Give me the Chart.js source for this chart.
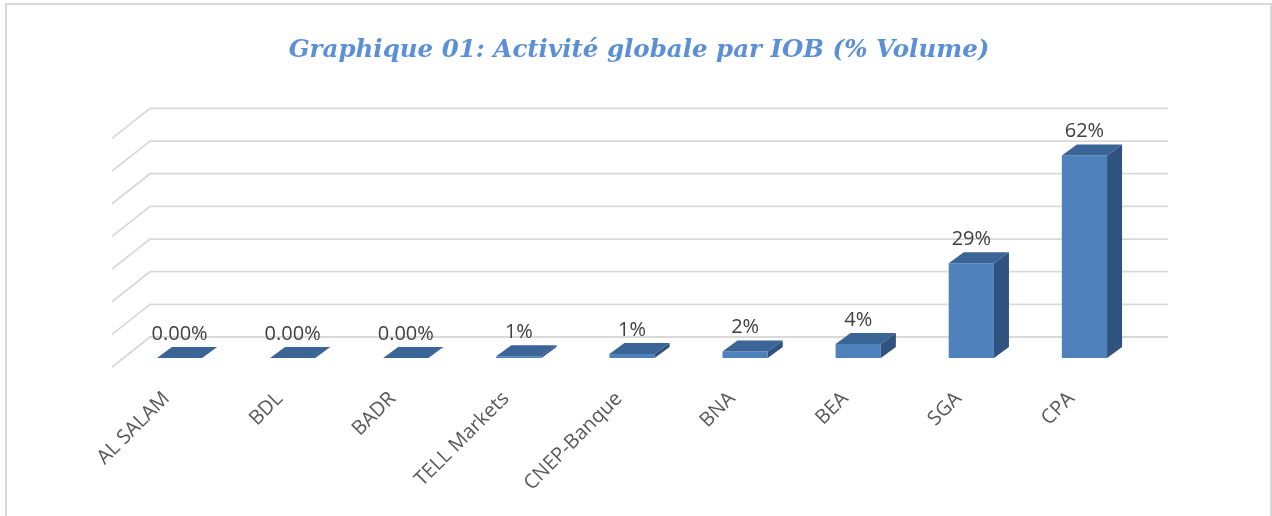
<!DOCTYPE html>
<html>
<head>
<meta charset="utf-8">
<title>Activité globale par IOB</title>
<script src="https://cdn.jsdelivr.net/npm/chart.js@4.4.1/dist/chart.umd.min.js"></script>
<style>
  html, body { margin: 0; padding: 0; background: #fff; }
  #wrap { position: relative; width: 1272px; height: 516px; }
</style>
</head>
<body>
<div id="wrap"><canvas id="chart"></canvas></div>
<script>
// ===== DATA =====
const categories = ['AL SALAM', 'BDL', 'BADR', 'TELL Markets', 'CNEP-Banque', 'BNA', 'BEA', 'SGA', 'CPA'];
const volumeShare = [0, 0, 0, 0.5, 1.2, 2, 4.3, 29, 62];
const valueLabels = ['0.00%', '0.00%', '0.00%', '1%', '1%', '2%', '4%', '29%', '62%'];
const gridTicks = [0, 10, 20, 30, 40, 50, 60, 70];

// offsets used to fake the excel 3D look
const DEPTH = { dx: 15, dy: -11 };  // bar depth (top / side faces)
const WALL = { dx: 27, dy: -21 };   // bar front plane -> back wall
const FLOOR = { dx: -11, dy: 9 };   // bar front plane -> front edge of the walls

const COLORS = {
    front: '#4F81BD',
    top: '#3B6596',
    side: '#30527F',
    grid: '#D9D9D9',
    frame: '#D9D9D9',
    label: '#404040',
    tick: '#595959',
    title: '#5B8FD6'
};

/**
 * Draws frame, 3D gridlines, bar top/side faces and value labels
 */
const pseudo3d = {
    id: 'pseudo3d',
    beforeDraw(chart) {
        const ctx = chart.ctx;
        ctx.save();
        ctx.strokeStyle = COLORS.frame;
        ctx.lineWidth = 2;
        ctx.strokeRect(6, 4, 1265, 600);
        ctx.restore();
    },
    beforeDatasetsDraw(chart) {
        const { ctx, chartArea, scales } = chart;
        ctx.save();
        ctx.strokeStyle = COLORS.grid;
        ctx.lineWidth = 1.8;
        gridTicks.forEach(v => {
            const y = scales.y.getPixelForValue(v);
            const bx = chartArea.left + WALL.dx;
            const by = y + WALL.dy;
            ctx.beginPath();
            ctx.moveTo(chartArea.left + FLOOR.dx, y + FLOOR.dy);
            ctx.lineTo(bx, by);
            ctx.lineTo(chartArea.right + WALL.dx, by);
            ctx.stroke();
        });
        ctx.restore();
    },
    afterDatasetsDraw(chart) {
        const ctx = chart.ctx;
        const meta = chart.getDatasetMeta(0);
        ctx.save();
        meta.data.forEach((bar, i) => {
            const left = bar.x - bar.width / 2;
            const right = bar.x + bar.width / 2;
            const top = bar.y;
            const base = bar.base;

            // top face
            ctx.fillStyle = COLORS.top;
            ctx.beginPath();
            ctx.moveTo(left, top);
            ctx.lineTo(right, top);
            ctx.lineTo(right + DEPTH.dx, top + DEPTH.dy);
            ctx.lineTo(left + DEPTH.dx, top + DEPTH.dy);
            ctx.closePath();
            ctx.fill();

            // side face
            ctx.fillStyle = COLORS.side;
            ctx.beginPath();
            ctx.moveTo(right, top);
            ctx.lineTo(right + DEPTH.dx, top + DEPTH.dy);
            ctx.lineTo(right + DEPTH.dx, base + DEPTH.dy);
            ctx.lineTo(right, base);
            ctx.closePath();
            ctx.fill();

            // value label
            ctx.fillStyle = COLORS.label;
            ctx.font = '20px "Open Sans"';
            ctx.textAlign = 'center';
            ctx.textBaseline = 'middle';
            ctx.fillText(valueLabels[i], bar.x, top - 24);
        });
        ctx.restore();
    }
};

new Chart(document.getElementById('chart'), {
    type: 'bar',
    data: {
        labels: categories,
        datasets: [{
            data: volumeShare,
            backgroundColor: COLORS.front,
            borderWidth: 0,
            barPercentage: 0.4,
            categoryPercentage: 1.0
        }]
    },
    options: {
        responsive: true,
        maintainAspectRatio: false,
        devicePixelRatio: 1,
        animation: false,
        layout: { padding: { left: 6, right: 0, top: 0, bottom: 0 } },
        plugins: {
            legend: { display: false },
            tooltip: { enabled: false },
            title: {
                display: true,
                text: 'Graphique 01: Activité globale par IOB (% Volume)',
                color: COLORS.title,
                font: { family: '"DejaVu Serif"', size: 24.5, weight: 'bold', style: 'italic', lineHeight: 1.2 },
                padding: { top: 36, bottom: 64 }
            }
        },
        scales: {
            x: {
                grid: { display: false },
                border: { display: false },
                ticks: {
                    autoSkip: false,
                    minRotation: 45,
                    maxRotation: 45,
                    padding: 21,
                    labelOffset: -13,
                    color: COLORS.tick,
                    font: { family: '"Open Sans"', size: 20 }
                },
                afterFit(scale) { scale.height = 158; }
            },
            y: {
                min: 0,
                max: 70,
                grid: { display: false },
                border: { display: false },
                ticks: { display: false },
                afterFit(scale) { scale.width = 117; }
            },
            y2: {
                position: 'right',
                grid: { display: false },
                border: { display: false },
                ticks: { display: false },
                afterFit(scale) { scale.width = 131; }
            }
        }
    },
    plugins: [pseudo3d]
});
</script>
</body>
</html>
